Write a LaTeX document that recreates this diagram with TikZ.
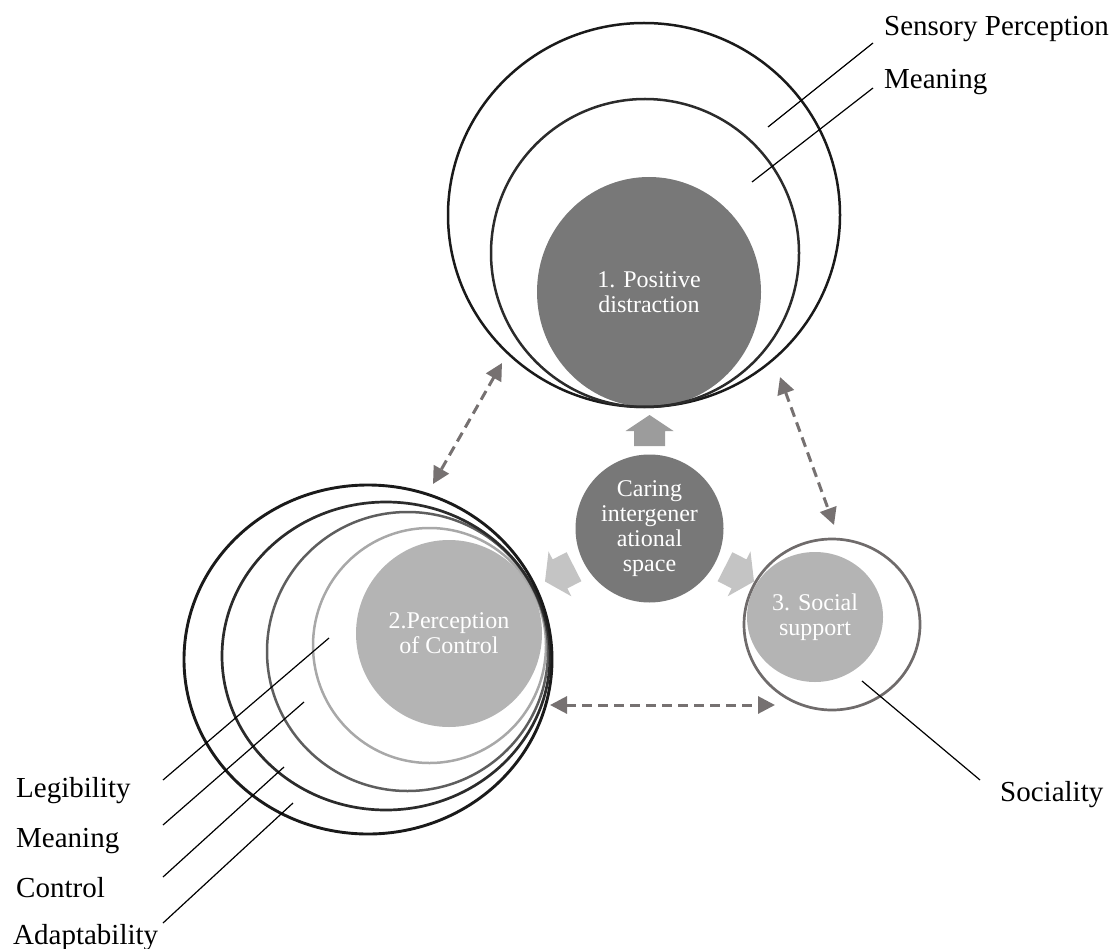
\documentclass[tikz,border=0pt]{standalone}
\usepackage{fontspec}
\setmainfont{Liberation Serif}
\usetikzlibrary{shapes.geometric,arrows.meta}
\definecolor{ringA}{HTML}{1A1A1A}
\definecolor{ringB}{HTML}{2B2B2B}
\definecolor{ringC}{HTML}{5E5E5E}
\definecolor{ringD}{HTML}{A8A8A8}
\definecolor{ringS}{HTML}{6F6B6B}
\definecolor{darkfill}{HTML}{787878}
\definecolor{lightfill}{HTML}{B4B4B4}
\definecolor{linkgrey}{HTML}{767171}
\definecolor{upgrey}{HTML}{9C9C9C}
\definecolor{sidegrey}{HTML}{C4C4C4}
\begin{document}
\begin{tikzpicture}[x=1pt,y=-1pt,
  ring/.style={ellipse,draw,line width=2.5pt,inner sep=0pt,outer sep=0pt},
  core/.style={ellipse,inner sep=0pt,outer sep=0pt,text=white,align=center,
    font=\fontsize{24}{25}\selectfont},
  tag/.style={anchor=base west,inner sep=0pt,font=\fontsize{29}{30}\selectfont},
  leader/.style={line width=1.2pt,black},
  dlink/.style={line width=3pt,draw=linkgrey,dash pattern=on 10pt off 6pt,
    {Triangle[length=17pt,width=17pt]}-{Triangle[length=17pt,width=17pt]}},
  fatarrow/.pic={\fill (0,0) -- (24,16) -- (15.5,16) -- (15.5,31) -- (-15.5,31)
    -- (-15.5,16) -- (-24,16) -- cycle;}
]
\useasboundingbox (0,0) rectangle (1115,949);

% 1. Positive distraction
\node[core,fill=darkfill,minimum width=224pt,minimum height=230pt] (pd) at (649,292)
  {1. Positive\\distraction};
\node[ring,draw=ringA,minimum width=392pt,minimum height=384pt] (pdOuter) at (644,215) {};
\node[ring,draw=ringB,minimum width=308pt,minimum height=308pt] (pdMid) at (645,253) {};

% 2. Perception of Control
\node[core,fill=lightfill,minimum width=186pt,minimum height=187pt] (pc) at (449,633.5)
  {2.Perception\\of Control};
\node[ring,draw=ringD,minimum width=233pt,minimum height=235pt] (pc4) at (429.5,645.5) {};
\node[ring,draw=ringC,minimum width=281pt,minimum height=279pt] (pc3) at (407.5,651.5) {};
\node[ring,draw=ringB,line width=2.7pt,minimum width=328pt,minimum height=308pt] (pc2) at (386,656) {};
\node[ring,draw=ringA,line width=2.9pt,minimum width=368pt,minimum height=349pt] (pc1) at (368,659.5) {};

% 3. Social support
\node[core,fill=lightfill,minimum width=136pt,minimum height=130pt] (ss) at (815,617)
  {3. Social\\support};
\node[ring,draw=ringS,line width=2.7pt,minimum width=176pt,minimum height=171pt] (ssOuter) at (832,624.5) {};

% centre
\node[core,fill=darkfill,minimum width=148pt,minimum height=148pt] (care) at (649.5,528.5)
  {Caring\\intergener\\ational\\space};

% block arrows out of the centre
\coordinate (tipUp) at (649.5,415);
\coordinate (tipRight) at (754,581.5);
\coordinate (tipLeft) at (545,581.5);
\pic[fill=upgrey] at (tipUp) {fatarrow};
\pic[fill=sidegrey,rotate=-117,scale=1.05] at (tipRight) {fatarrow};
\pic[fill=sidegrey,rotate=117,scale=1.05] at (tipLeft) {fatarrow};

% dashed links between the three groups
\coordinate (l1a) at (502,363);  \coordinate (l1b) at (433,484);
\coordinate (l2a) at (780,377);  \coordinate (l2b) at (834,525);
\coordinate (l3a) at (550,705);  \coordinate (l3b) at (775,705);
\draw[dlink] (l1a) -- (l1b);
\draw[dlink] (l2a) -- (l2b);
\draw[dlink] (l3a) -- (l3b);

% labels and leader lines
\node[tag] (tSens) at (884,36) {Sensory Perception};
\node[tag] (tMeanTop) at (884,89) {Meaning};
\node[tag] (tSoc) at (1000,801) {Sociality};
\node[tag] (tLeg) at (16,797) {Legibility};
\node[tag] (tMean) at (16,847) {Meaning};
\node[tag] (tCtrl) at (16,897) {Control};
\node[tag] (tAdapt) at (13,944) {Adaptability};

\coordinate (sensIn) at (768,127);  \coordinate (sensOut) at (873,43);
\coordinate (meanIn) at (752,182);  \coordinate (meanOut) at (873,88);
\coordinate (socIn) at (862,681);   \coordinate (socOut) at (980,780);
\coordinate (legIn) at (329,638);   \coordinate (legOut) at (163,780);
\coordinate (mnIn) at (304,702);    \coordinate (mnOut) at (163,825);
\coordinate (ctIn) at (284,767);    \coordinate (ctOut) at (163,877);
\coordinate (adIn) at (293,803);    \coordinate (adOut) at (163,923);
\draw[leader] (sensIn) -- (sensOut);
\draw[leader] (meanIn) -- (meanOut);
\draw[leader] (socIn) -- (socOut);
\draw[leader] (legIn) -- (legOut);
\draw[leader] (mnIn) -- (mnOut);
\draw[leader] (ctIn) -- (ctOut);
\draw[leader] (adIn) -- (adOut);
\end{tikzpicture}
\end{document}
